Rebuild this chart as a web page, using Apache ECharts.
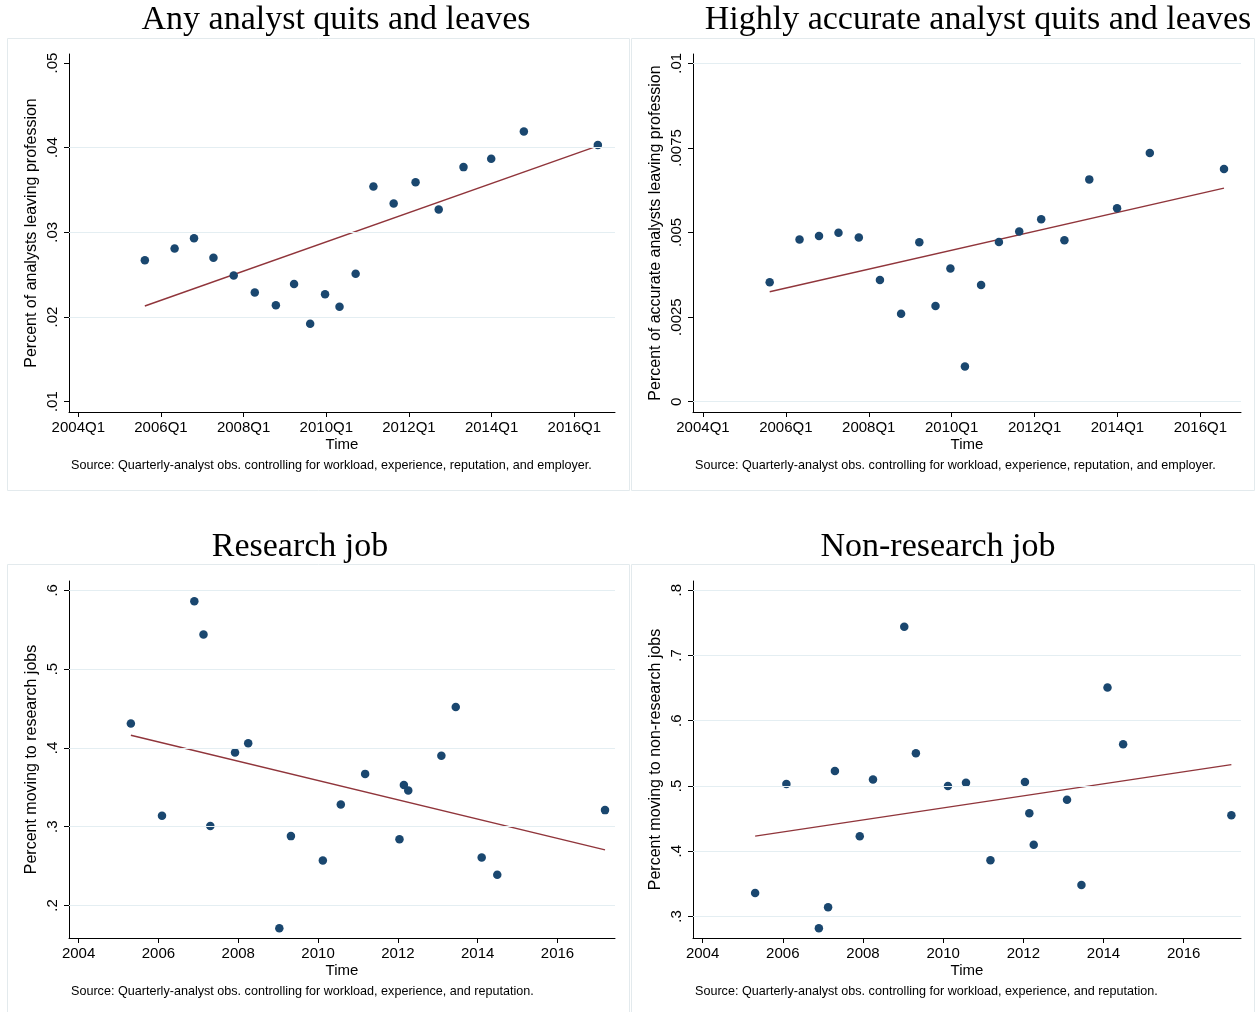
<!DOCTYPE html>
<html><head><meta charset="utf-8">
<script src="https://cdn.jsdelivr.net/npm/echarts@6/dist/echarts.min.js"></script>
<style>html,body{margin:0;padding:0;background:#fff}#c{width:1258px;height:1012px}</style>
</head><body><div id="c"></div>
<script>
// ---- data ----
const topTimes = [2005.61, 2006.33, 2006.80, 2007.27, 2007.76, 2008.27, 2008.78, 2009.22, 2009.61, 2009.97,
                  2010.32, 2010.71, 2011.14, 2011.63, 2012.16, 2012.72, 2013.32, 2013.99, 2014.78, 2016.57];
const anyLeave = [0.0267, 0.0281, 0.0293, 0.0270, 0.0249, 0.0229, 0.0214, 0.0239, 0.0192, 0.0227,
                  0.0212, 0.0251, 0.0354, 0.0334, 0.0359, 0.0327, 0.0377, 0.0387, 0.0419, 0.0403];
const accurateLeave = [0.00353, 0.00479, 0.00490, 0.00499, 0.00485, 0.00360, 0.00260, 0.00471, 0.00283, 0.00394,
                       0.00104, 0.00345, 0.00472, 0.00503, 0.00539, 0.00477, 0.00657, 0.00572, 0.00735, 0.00688];
const bottomYears = [2005.31, 2006.09, 2006.90, 2007.13, 2007.30, 2007.92, 2008.25, 2009.03, 2009.32, 2010.12,
                     2010.57, 2011.18, 2012.04, 2012.15, 2012.26, 2013.09, 2013.45, 2014.10, 2014.49, 2017.19];
const researchJob = [0.431, 0.314, 0.586, 0.544, 0.301, 0.394, 0.406, 0.171, 0.288, 0.257,
                     0.328, 0.367, 0.284, 0.353, 0.346, 0.390, 0.452, 0.261, 0.239, 0.321];
const nonResearchJob = [0.336, 0.503, 0.282, 0.314, 0.523, 0.423, 0.510, 0.744, 0.550, 0.500,
                        0.505, 0.386, 0.506, 0.458, 0.410, 0.479, 0.348, 0.651, 0.564, 0.455];
// fitted linear trend endpoints
const topFitTimes = [2005.61, 2016.57];
const anyLeaveFit = [0.0213, 0.0402];
const accurateLeaveFit = [0.00325, 0.00631];
const bottomFitYears = [2005.31, 2017.19];
const researchFit = [0.416, 0.2705];
const nonResearchFit = [0.423, 0.5327];
// tick values / labels
const xTickValues = [2004, 2006, 2008, 2010, 2012, 2014, 2016];
const anyLeaveTicks = [0.01, 0.02, 0.03, 0.04, 0.05];
const anyLeaveGrid = [0.02, 0.03, 0.04];
const accurateTicks = [0, 0.0025, 0.005, 0.0075, 0.01];
const accurateGrid = [0, 0.0025, 0.005, 0.0075];
const researchTicks = [0.2, 0.3, 0.4, 0.5, 0.6];
const researchGrid = [0.2, 0.3, 0.4, 0.5, 0.6];
const nonResearchTicks = [0.3, 0.4, 0.5, 0.6, 0.7, 0.8];
const nonResearchGrid = [0.3, 0.4, 0.5, 0.6, 0.7, 0.8];
const titles = ['Any analyst quits and leaves', 'Highly accurate analyst quits and leaves', 'Research job', 'Non-research job'];
const yNames = ['Percent of analysts leaving profession', 'Percent of accurate analysts leaving profession',
                'Percent moving to research jobs', 'Percent moving to non-research jobs'];
const notes = ['Source: Quarterly-analyst obs. controlling for workload, experience, reputation, and employer.',
               'Source: Quarterly-analyst obs. controlling for workload, experience, reputation, and employer.',
               'Source: Quarterly-analyst obs. controlling for workload, experience, and reputation.',
               'Source: Quarterly-analyst obs. controlling for workload, experience, and reputation.'];

// ---- layout / style ----
const NAVY = '#1a476f', MAROON = '#90353b', GRIDC = '#e4eef2', FRAME = '#e3eaed';
const SANS = 'Liberation Sans, Arial, sans-serif';
const panels = [
  {grid: {left: 69, top: 54, width: 546, height: 358}, x: topTimes, y: anyLeave, fx: topFitTimes, fy: anyLeaveFit,
   xr: [2003.775, 2016.985], yr: [0.00878, 0.05106], yt: anyLeaveTicks, yg: anyLeaveGrid, q: true},
  {grid: {left: 693, top: 54, width: 548, height: 358}, x: topTimes, y: accurateLeave, fx: topFitTimes, fy: accurateLeaveFit,
   xr: [2003.76, 2016.98], yr: [-0.000304, 0.010275], yt: accurateTicks, yg: accurateGrid, q: true},
  {grid: {left: 69, top: 581, width: 546, height: 357}, x: bottomYears, y: researchJob, fx: bottomFitYears, fy: researchFit,
   xr: [2003.76, 2017.44], yr: [0.1587, 0.6118], yt: researchTicks, yg: researchGrid, q: false},
  {grid: {left: 693, top: 581, width: 548, height: 357}, x: bottomYears, y: nonResearchJob, fx: bottomFitYears, fy: nonResearchFit,
   xr: [2003.76, 2017.43], yr: [0.2669, 0.8142], yt: nonResearchTicks, yg: nonResearchGrid, q: false}
];
const fmtY = v => { const s = String(+v.toFixed(6)); return s.replace(/^0\./, '.').replace(/^-0\./, '-.'); };

const grids = [], xAxes = [], yAxes = [], series = [];
panels.forEach((p, i) => {
  grids.push(p.grid);
  xAxes.push({
    type: 'value', gridIndex: i, min: p.xr[0], max: p.xr[1],
    name: 'Time', nameLocation: 'middle', nameGap: 25,
    nameTextStyle: {fontFamily: SANS, fontSize: 15, color: '#000'},
    axisLine: {show: true, onZero: false, lineStyle: {color: '#000', width: 1}},
    axisTick: {show: true, length: 5, customValues: xTickValues, lineStyle: {color: '#000'}},
    axisLabel: {customValues: xTickValues, margin: 8, fontFamily: SANS, fontSize: 15, color: '#000',
                formatter: v => p.q ? (Math.round(v) + 'Q1') : String(Math.round(v))},
    splitLine: {show: false}
  });
  yAxes.push({
    type: 'value', gridIndex: i, min: p.yr[0], max: p.yr[1],
    name: yNames[i], nameLocation: 'middle', nameGap: 29,
    nameTextStyle: {fontFamily: SANS, fontSize: 16, color: '#000'},
    axisLine: {show: true, onZero: false, lineStyle: {color: '#000', width: 1}},
    axisTick: {show: true, length: 5, customValues: p.yt, lineStyle: {color: '#000'}},
    axisLabel: {customValues: p.yt, rotate: 90, margin: 9, fontFamily: SANS, fontSize: 15, color: '#000', formatter: fmtY},
    splitLine: {show: false}
  });
  series.push({
    type: 'line', xAxisIndex: i, yAxisIndex: i, z: 2,
    data: p.fx.map((x, k) => [x, p.fy[k]]),
    showSymbol: false, symbol: 'none', silent: true,
    lineStyle: {color: MAROON, width: 1.4},
    markLine: {silent: true, symbol: 'none', animation: false, label: {show: false},
               lineStyle: {color: GRIDC, type: 'solid', width: 1.2},
               data: p.yg.map(v => ({yAxis: v}))},
    animation: false
  });
  series.push({
    type: 'scatter', xAxisIndex: i, yAxisIndex: i, z: 3,
    data: p.x.map((x, k) => [x, p.y[k]]),
    symbol: 'circle', symbolSize: 8.5, itemStyle: {color: NAVY, opacity: 1}, animation: false
  });
});

const graphics = [
  {type: 'rect', shape: {x: 7.5, y: 38.5, width: 622, height: 452}, style: {fill: 'none', stroke: FRAME, lineWidth: 1}, silent: true},
  {type: 'rect', shape: {x: 631.5, y: 38.5, width: 623, height: 452}, style: {fill: 'none', stroke: FRAME, lineWidth: 1}, silent: true},
  {type: 'rect', shape: {x: 7.5, y: 564.5, width: 622, height: 460}, style: {fill: 'none', stroke: FRAME, lineWidth: 1}, silent: true},
  {type: 'rect', shape: {x: 631.5, y: 564.5, width: 623, height: 460}, style: {fill: 'none', stroke: FRAME, lineWidth: 1}, silent: true}
];
const titlePos = [[336, 20], [978, 20], [300, 547], [938, 547]];
const notePos = [[71, 466], [695, 466], [71, 992], [695, 992]];
titles.forEach((t, i) => graphics.push({type: 'text', x: titlePos[i][0], y: titlePos[i][1], silent: true,
  style: {text: t, fill: '#000', font: '34px "Liberation Serif", "Times New Roman", serif', textAlign: 'center', textVerticalAlign: 'middle'}}));
notes.forEach((t, i) => graphics.push({type: 'text', x: notePos[i][0], y: notePos[i][1], silent: true,
  style: {text: t, fill: '#000', font: '12.6px "Liberation Sans", Arial, sans-serif', textAlign: 'left', textVerticalAlign: 'middle'}}));

const chart = echarts.init(document.getElementById('c'), null, {renderer: 'canvas'});
chart.setOption({
  backgroundColor: '#fff', animation: false,
  grid: grids, xAxis: xAxes, yAxis: yAxes, series: series, graphic: graphics
});
</script></body></html>
